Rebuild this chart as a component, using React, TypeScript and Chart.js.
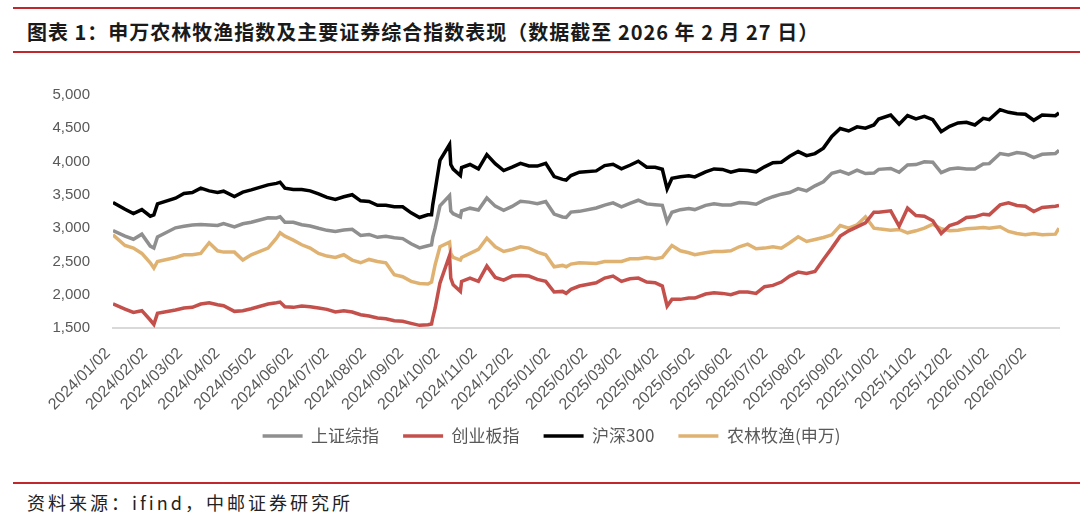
import React, { useEffect, useRef } from "react";
import { Chart, registerables } from "chart.js";

Chart.register(...registerables);

// ---- data ----
const dates = [
  "2024-01-02", "2024-01-12", "2024-01-19", "2024-01-26", "2024-02-02", "2024-02-05", "2024-02-08", "2024-02-23", "2024-03-01", "2024-03-08",
  "2024-03-15", "2024-03-22", "2024-03-29", "2024-04-03", "2024-04-12", "2024-04-19", "2024-04-26", "2024-05-10", "2024-05-17", "2024-05-20",
  "2024-05-24", "2024-05-31", "2024-06-07", "2024-06-14", "2024-06-21", "2024-06-28", "2024-07-05", "2024-07-12", "2024-07-19", "2024-07-26",
  "2024-08-02", "2024-08-09", "2024-08-16", "2024-08-23", "2024-08-30", "2024-09-06", "2024-09-13", "2024-09-20", "2024-09-23", "2024-09-24",
  "2024-09-26", "2024-09-30", "2024-10-08", "2024-10-09", "2024-10-11", "2024-10-17", "2024-10-18", "2024-10-25", "2024-11-01", "2024-11-08",
  "2024-11-15", "2024-11-22", "2024-11-29", "2024-12-06", "2024-12-13", "2024-12-20", "2024-12-27", "2025-01-03", "2025-01-10", "2025-01-13",
  "2025-01-17", "2025-01-24", "2025-02-07", "2025-02-14", "2025-02-21", "2025-02-28", "2025-03-07", "2025-03-14", "2025-03-21", "2025-03-28",
  "2025-04-03", "2025-04-07", "2025-04-11", "2025-04-18", "2025-04-25", "2025-04-30", "2025-05-09", "2025-05-16", "2025-05-23", "2025-05-30",
  "2025-06-06", "2025-06-13", "2025-06-20", "2025-06-27", "2025-07-04", "2025-07-11", "2025-07-18", "2025-07-25", "2025-08-01", "2025-08-08",
  "2025-08-15", "2025-08-22", "2025-08-29", "2025-09-05", "2025-09-12", "2025-09-19", "2025-09-26", "2025-09-30", "2025-10-10", "2025-10-17",
  "2025-10-24", "2025-10-31", "2025-11-07", "2025-11-14", "2025-11-21", "2025-11-28", "2025-12-05", "2025-12-12", "2025-12-19", "2025-12-26",
  "2025-12-31", "2026-01-09", "2026-01-16", "2026-01-23", "2026-01-30", "2026-02-06", "2026-02-13", "2026-02-24", "2026-02-27",
];

const sse = [
  2962, 2881, 2833, 2910, 2730, 2702, 2866, 3005, 3027, 3046,
  3055, 3048, 3041, 3069, 3019, 3065, 3088, 3155, 3154, 3171,
  3089, 3087, 3051, 3033, 2998, 2967, 2950, 2971, 2982, 2891,
  2905, 2862, 2879, 2855, 2843, 2765, 2704, 2736, 2748, 2864,
  3000, 3336, 3489, 3258, 3217, 3169, 3261, 3300, 3272, 3452,
  3330, 3267, 3326, 3404, 3391, 3368, 3400, 3211, 3168, 3160,
  3241, 3252, 3303, 3346, 3379, 3321, 3372, 3419, 3364, 3351,
  3342, 3096, 3238, 3277, 3296, 3279, 3342, 3367, 3348, 3347,
  3385, 3377, 3359, 3424, 3472, 3510, 3534, 3593, 3560, 3635,
  3697, 3825, 3857, 3812, 3870, 3820, 3828, 3883, 3897, 3839,
  3950, 3955, 3997, 3990, 3835, 3888, 3902, 3889, 3890, 3963,
  3969, 4120, 4100, 4136, 4120, 4060, 4110, 4120, 4170,
];

const chinext = [
  1861, 1785, 1734, 1760, 1620, 1555, 1720, 1770, 1800, 1810,
  1860, 1880, 1850, 1835, 1750, 1760, 1790, 1860, 1880, 1890,
  1820, 1810, 1830, 1820, 1800, 1780, 1740, 1760, 1740, 1700,
  1680, 1650, 1640, 1610, 1600, 1570, 1540, 1550, 1560, 1650,
  1800, 2175, 2590, 2250, 2150, 2050, 2200, 2250, 2200, 2430,
  2260, 2220, 2280, 2290, 2280, 2230, 2200, 2040, 2050, 2020,
  2080, 2130, 2180, 2250, 2280, 2200, 2240, 2250, 2190, 2180,
  2130, 1830, 1930, 1930, 1950, 1950, 2010, 2030, 2020, 2000,
  2040, 2040, 2020, 2120, 2140, 2190, 2280, 2340, 2320, 2350,
  2530, 2700, 2880, 2960, 3020, 3080, 3240, 3240, 3260, 3030,
  3300, 3190, 3180, 3110, 2920, 3040, 3080, 3160, 3170, 3210,
  3200, 3350, 3380, 3340, 3330, 3250, 3310, 3330, 3340,
];

const csi300 = [
  3386, 3284, 3218, 3278, 3180, 3200, 3365, 3450, 3520, 3535,
  3600, 3560, 3537, 3555, 3476, 3541, 3574, 3650, 3672, 3690,
  3600, 3580, 3580, 3560, 3515, 3462, 3432, 3472, 3502, 3410,
  3400, 3343, 3345, 3320, 3321, 3230, 3160, 3200, 3202, 3350,
  3570, 4017, 4256, 3956, 3887, 3790, 3910, 3956, 3890, 4104,
  3968, 3865, 3916, 3973, 3934, 3932, 3974, 3775, 3733, 3722,
  3790, 3840, 3860, 3940, 3960, 3890, 3945, 4006, 3915, 3915,
  3885, 3590, 3750, 3772, 3786, 3770, 3846, 3890, 3882, 3840,
  3873, 3865, 3846, 3921, 3982, 3991, 4080, 4150, 4090, 4120,
  4202, 4378, 4497, 4460, 4522, 4501, 4550, 4640, 4700, 4560,
  4690, 4640, 4680, 4630, 4450, 4530, 4580, 4590, 4550, 4650,
  4630, 4780, 4740, 4720, 4710, 4620, 4700, 4690, 4730,
];

const agri = [
  2900, 2740, 2700, 2620, 2480, 2400, 2500, 2560, 2600, 2600,
  2620, 2780, 2660, 2640, 2640, 2520, 2600, 2700, 2850, 2930,
  2880, 2820, 2750, 2700, 2620, 2580, 2560, 2600, 2520, 2480,
  2530, 2500, 2480, 2300, 2270, 2200, 2170, 2160, 2190, 2280,
  2450, 2720, 2790, 2620, 2560, 2520, 2560, 2620, 2680, 2850,
  2720, 2650, 2680, 2720, 2700, 2640, 2600, 2420, 2440, 2420,
  2460, 2480, 2470, 2500, 2500, 2500, 2540, 2540, 2560, 2540,
  2560, 2650, 2740, 2660, 2630, 2600, 2630, 2650, 2650, 2660,
  2720, 2760, 2690, 2700, 2720, 2700, 2780, 2870, 2800, 2830,
  2860, 2900, 3040, 3000, 3050, 3170, 3000, 2990, 2970, 2980,
  2930, 2960, 3000, 3060, 2990, 2960, 2970, 2990, 3000, 3010,
  3000, 3020, 2950, 2920, 2900, 2920, 2900, 2910, 3000,
];

const seriesNames = ["上证综指", "创业板指", "沪深300", "农林牧渔(申万)"];

const xTickLabels = [
  "2024/01/02", "2024/02/02", "2024/03/02", "2024/04/02", "2024/05/02", "2024/06/02", "2024/07/02",
  "2024/08/02", "2024/09/02", "2024/10/02", "2024/11/02", "2024/12/02", "2025/01/02", "2025/02/02",
  "2025/03/02", "2025/04/02", "2025/05/02", "2025/06/02", "2025/07/02", "2025/08/02", "2025/09/02",
  "2025/10/02", "2025/11/02", "2025/12/02", "2026/01/02", "2026/02/02",
];

const yTickValues = [1500, 2000, 2500, 3000, 3500, 4000, 4500, 5000];

const startDate = "2024-01-02";
const endDate = "2026-02-27";

// ---- helpers ----
const DAY_MS = 86400000;
function dayIndex(s: string): number {
  const [y, m, d] = s.split(/[-/]/).map(Number);
  const [y0, m0, d0] = startDate.split("-").map(Number);
  return Math.round((Date.UTC(y, m - 1, d) - Date.UTC(y0, m0 - 1, d0)) / DAY_MS);
}

const COLORS = ["#8f8f8f", "#c4504c", "#000000", "#dfb272"];
const CJK = '"Noto Sans CJK SC", "Noto Sans", sans-serif';
const LATIN = '"Liberation Sans", Arial, sans-serif';

// nudge the legend row so it sits where the reference puts it
const legendShift = {
  id: "legendShift",
  afterLayout(chart: any) {
    const lg = chart.legend;
    if (lg) {
      lg.left += 22;
      lg.right += 22;
      lg.top -= 9.5;
      lg.bottom -= 9.5;
    }
  },
};

export default function App() {
  const canvasRef = useRef<HTMLCanvasElement | null>(null);

  useEffect(() => {
    const canvas = canvasRef.current;
    if (!canvas) return;
    const seriesValues = [sse, chinext, csi300, agri];
    const tickDays = xTickLabels.map((t) => dayIndex(t));
    const chart = new Chart(canvas, {
      type: "line",
      data: {
        datasets: seriesValues.map((vals, k) => ({
          label: seriesNames[k],
          data: dates.map((d, i) => ({ x: dayIndex(d), y: vals[i] })),
          borderColor: COLORS[k],
          backgroundColor: COLORS[k],
          borderWidth: 3.5,
          pointRadius: 0,
          tension: 0,
        })),
      },
      options: {
        animation: false,
        responsive: false,
        maintainAspectRatio: false,
        layout: { padding: { left: 0, right: 21, top: 35, bottom: 0 } },
        scales: {
          x: {
            type: "linear",
            min: 0,
            max: dayIndex(endDate),
            afterBuildTicks: (scale: any) => {
              scale.ticks = tickDays.map((v) => ({ value: v }));
            },
            afterFit: (scale: any) => {
              scale.height = 85;
            },
            ticks: {
              autoSkip: false,
              minRotation: 45,
              maxRotation: 45,
              padding: 16,
              labelOffset: -5,
              color: "#595959",
              font: { size: 16, family: LATIN },
              callback: (v: any) => {
                const idx = tickDays.indexOf(Number(v));
                return idx >= 0 ? xTickLabels[idx] : "";
              },
            },
            grid: { display: false, drawTicks: false },
            border: { display: true, color: "#d9d9d9", width: 2 },
          },
          y: {
            min: 1500,
            max: 5000,
            afterBuildTicks: (scale: any) => {
              scale.ticks = yTickValues.map((v) => ({ value: v }));
            },
            afterFit: (scale: any) => {
              scale.width = 113;
            },
            ticks: {
              padding: 23,
              color: "#595959",
              font: { size: 15, family: LATIN },
              callback: (v: any) => Number(v).toLocaleString("en-US"),
            },
            grid: { display: false, drawTicks: false },
            border: { display: false },
          },
        },
        plugins: {
          legend: {
            position: "bottom",
            labels: {
              usePointStyle: true,
              pointStyle: "line",
              pointStyleWidth: 40,
              padding: 24,
              color: "#595959",
              font: { size: 17, family: CJK },
            },
          },
          tooltip: { enabled: false },
        },
      },
      plugins: [legendShift],
    } as any);
    return () => chart.destroy();
  }, []);

  return (
    <div
      style={{
        position: "fixed",
        left: 0,
        top: 0,
        width: 1080,
        height: 525,
        background: "#ffffff",
        overflow: "hidden",
      }}
    >
      <div style={{ position: "absolute", left: 13, right: 0, top: 7, height: 2, background: "#c0282d" }} />
      <div
        style={{
          position: "absolute",
          left: 27,
          top: 18,
          lineHeight: "28px",
          fontFamily: CJK,
          fontWeight: 700,
          fontSize: 20,
          letterSpacing: 1,
          color: "#1a1a1a",
          whiteSpace: "nowrap",
        }}
      >
        图表 1：申万农林牧渔指数及主要证券综合指数表现（数据截至 2026 年 2 月 27 日）
      </div>
      <div style={{ position: "absolute", left: 13, right: 0, top: 51, height: 1.5, background: "#c0282d" }} />
      <canvas
        ref={canvasRef}
        width={1080}
        height={404}
        style={{ position: "absolute", left: 0, top: 60, width: 1080, height: 404 }}
      />
      <div style={{ position: "absolute", left: 13, right: 0, top: 482, height: 1.5, background: "#c0282d" }} />
      <div
        style={{
          position: "absolute",
          left: 27,
          top: 489,
          lineHeight: "26px",
          fontFamily: CJK,
          fontSize: 18,
          letterSpacing: 3,
          color: "#222222",
          whiteSpace: "nowrap",
        }}
      >
        资料来源：ifind，中邮证券研究所
      </div>
    </div>
  );
}
